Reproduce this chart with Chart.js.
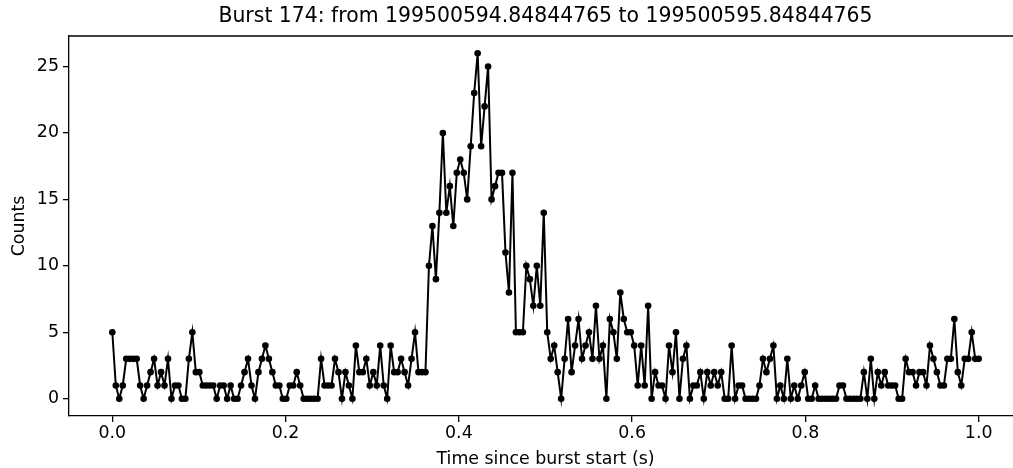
<!DOCTYPE html>
<html>
<head>
<meta charset="utf-8">
<script src="https://cdn.jsdelivr.net/npm/chart.js@4/dist/chart.umd.min.js"></script>
<style>
  html { overflow: hidden; }
  body { margin: 0; padding: 0; background: #fff; }
  #wrap { position: absolute; left: 0; top: 0; width: 1100px; height: 468px; }
</style>
</head>
<body>
<div id="wrap"><canvas id="burstChart" width="1100" height="468"></canvas></div>
<script>
// Data: photon counts per bin, 250 bins over one second
const burstId = 174;
const burstFrom = '199500594.84844765';
const burstTo = '199500595.84844765';
const tStart = 0.0;
const tEnd = 1.0;
const counts = [
  5, 1, 0, 1, 3, 3, 3, 3, 1, 0,
  1, 2, 3, 1, 2, 1, 3, 0, 1, 1,
  0, 0, 3, 5, 2, 2, 1, 1, 1, 1,
  0, 1, 1, 0, 1, 0, 0, 1, 2, 3,
  1, 0, 2, 3, 4, 3, 2, 1, 1, 0,
  0, 1, 1, 2, 1, 0, 0, 0, 0, 0,
  3, 1, 1, 1, 3, 2, 0, 2, 1, 0,
  4, 2, 2, 3, 1, 2, 1, 4, 1, 0,
  4, 2, 2, 3, 2, 1, 3, 5, 2, 2,
  2, 10, 13, 9, 14, 20, 14, 16, 13, 17,
  18, 17, 15, 19, 23, 26, 19, 22, 25, 15,
  16, 17, 17, 11, 8, 17, 5, 5, 5, 10,
  9, 7, 10, 7, 14, 5, 3, 4, 2, 0,
  3, 6, 2, 4, 6, 3, 4, 5, 3, 7,
  3, 4, 0, 6, 5, 3, 8, 6, 5, 5,
  4, 1, 4, 1, 7, 0, 2, 1, 1, 0,
  4, 2, 5, 0, 3, 4, 0, 1, 1, 2,
  0, 2, 1, 2, 1, 2, 0, 0, 4, 0,
  1, 1, 0, 0, 0, 0, 1, 3, 2, 3,
  4, 0, 1, 0, 3, 0, 1, 0, 1, 2,
  0, 0, 1, 0, 0, 0, 0, 0, 0, 1,
  1, 0, 0, 0, 0, 0, 2, 0, 3, 0,
  2, 1, 2, 1, 1, 1, 0, 0, 3, 2,
  2, 1, 2, 2, 1, 4, 3, 2, 1, 1,
  3, 3, 6, 2, 1, 3, 3, 5, 3, 3
];
const xTicks = [0.0, 0.2, 0.4, 0.6, 0.8, 1.0];
const yTicks = [0, 5, 10, 15, 20, 25];

// points evenly spread from start to end (like linspace)
const points = counts.map((c, i) => ({
  x: tStart + i * (tEnd - tStart) / (counts.length - 1),
  y: c
}));

const fontFamily = '"DejaVu Sans", sans-serif';

// top edge of the axes frame (the right edge falls outside the picture)
const framePlugin = {
  id: 'frame',
  afterDraw(chart) {
    const a = chart.chartArea;
    const c = chart.ctx;
    c.save();
    c.strokeStyle = '#000';
    c.lineWidth = 1.3;
    c.beginPath();
    c.moveTo(a.left, a.top);
    c.lineTo(a.right, a.top);
    c.stroke();
    c.restore();
  }
};

const ctx = document.getElementById('burstChart').getContext('2d');

const burstChart = new Chart(ctx, {
  type: 'line',
  data: {
    datasets: [{
      label: 'Counts',
      data: points,
      borderColor: '#000',
      backgroundColor: '#000',
      borderWidth: 2,
      pointRadius: 3.3,
      pointHoverRadius: 3.3,
      pointBorderWidth: 0,
      pointBackgroundColor: '#000',
      tension: 0,
      fill: false
    }]
  },
  options: {
    responsive: false,
    animation: false,
    layout: { padding: { left: 0, right: 78, top: 0, bottom: 0 } },
    plugins: {
      legend: { display: false },
      tooltip: { enabled: false },
      title: {
        display: true,
        fullSize: false,
        text: 'Burst ' + burstId + ': from ' + burstFrom + ' to ' + burstTo,
        color: '#000',
        font: { family: fontFamily, size: 20.4, weight: 'normal', lineHeight: 1.2 },
        padding: { top: 4.5, bottom: 7 }
      }
    },
    scales: {
      x: {
        type: 'linear',
        position: 'bottom',
        min: -0.05,
        max: 1.05,
        afterFit: (scale) => { scale.height = 52; },
        afterBuildTicks: (scale) => { scale.ticks = xTicks.map(v => ({ value: v })); },
        ticks: {
          includeBounds: false,
          color: '#000',
          padding: 1,
          maxRotation: 0,
          font: { family: fontFamily, size: 17.4 },
          callback: (v) => Number(v).toFixed(1)
        },
        title: {
          display: true,
          text: 'Time since burst start (s)',
          color: '#000',
          font: { family: fontFamily, size: 17.4, lineHeight: 1 },
          padding: { top: 0, bottom: 0 }
        },
        grid: {
          display: true,
          drawOnChartArea: false,
          drawTicks: true,
          tickLength: 6,
          lineWidth: 1.3,
          color: '#000'
        },
        border: { display: true, color: '#000', width: 1.3 }
      },
      y: {
        type: 'linear',
        position: 'left',
        min: -1.3,
        max: 27.3,
        afterFit: (scale) => { scale.width = 69; },
        afterBuildTicks: (scale) => { scale.ticks = yTicks.map(v => ({ value: v })); },
        ticks: {
          includeBounds: false,
          color: '#000',
          padding: 4,
          font: { family: fontFamily, size: 17.4 },
          callback: (v) => String(v)
        },
        title: {
          display: true,
          text: 'Counts',
          color: '#000',
          font: { family: fontFamily, size: 17.4, lineHeight: 1 },
          padding: { top: 11, bottom: 0 }
        },
        grid: {
          display: true,
          drawOnChartArea: false,
          drawTicks: true,
          tickLength: 6,
          lineWidth: 1.3,
          color: '#000'
        },
        border: { display: true, color: '#000', width: 1.3 }
      }
    }
  },
  plugins: [framePlugin]
});
</script>
</body>
</html>
